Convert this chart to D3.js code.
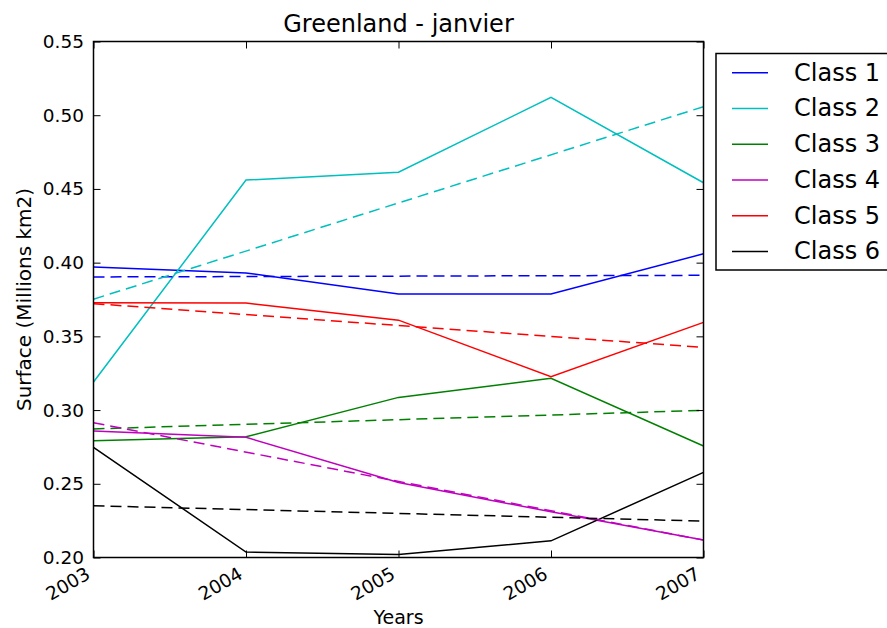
<!DOCTYPE html>
<html>
<head>
<meta charset="utf-8">
<script src="https://cdn.jsdelivr.net/npm/d3@7"></script>
<style>
  html, body { margin: 0; padding: 0; background: #fff; }
  svg { display: block; font-family: "DejaVu Sans", sans-serif; }
</style>
</head>
<body>
<svg id="chart" width="887" height="628"></svg>
<script>
// Yearly January surface per class (millions km2)
const years = [2003, 2004, 2005, 2006, 2007];
const classNames = ["Class 1", "Class 2", "Class 3", "Class 4", "Class 5", "Class 6"];
const classColors = ["#0000ff", "#00bfbf", "#008000", "#bf00bf", "#ff0000", "#000000"];

const class1 = [0.397, 0.393, 0.3787, 0.3787, 0.406];
const class2 = [0.319, 0.456, 0.4613, 0.5121, 0.4542];
const class3 = [0.2792, 0.2819, 0.3086, 0.3215, 0.2756];
const class4 = [0.2858, 0.2815, 0.2509, 0.231, 0.2118];
const class5 = [0.3728, 0.3726, 0.361, 0.3226, 0.3595];
const class6 = [0.2747, 0.2037, 0.2021, 0.2113, 0.2577];

// Linear trend lines: value at first and last year
const trend1 = [0.3903, 0.3914];
const trend2 = [0.3752, 0.5058];
const trend3 = [0.2872, 0.2998];
const trend4 = [0.2914, 0.2118];
const trend5 = [0.3722, 0.3425];
const trend6 = [0.2351, 0.2247];

const yTicks = [0.20, 0.25, 0.30, 0.35, 0.40, 0.45, 0.50, 0.55];

const seriesValues = [class1, class2, class3, class4, class5, class6];
const trendValues = [trend1, trend2, trend3, trend4, trend5, trend6];

const svg = d3.select("#chart");
const plotLeft = 93.5, plotRight = 703.5, plotTop = 41.5, plotBottom = 557.5;

const x = d3.scaleLinear().domain([2003, 2007]).range([plotLeft, plotRight]);
const y = d3.scaleLinear().domain([0.20, 0.55]).range([plotBottom, plotTop]);

// Plot lines
const line = d3.line().x(d => x(d[0])).y(d => y(d[1]));
const plot = svg.append("g");

seriesValues.forEach((vals, i) => {
  plot.append("path")
    .datum(years.map((yr, j) => [yr, vals[j]]))
    .attr("d", line)
    .attr("fill", "none")
    .attr("stroke", classColors[i])
    .attr("stroke-width", 1.5);
});

trendValues.forEach((tv, i) => {
  plot.append("path")
    .datum([[years[0], tv[0]], [years[years.length - 1], tv[1]]])
    .attr("d", line)
    .attr("fill", "none")
    .attr("stroke", classColors[i])
    .attr("stroke-width", 1.5)
    .attr("stroke-dasharray", "11,6");
});

// Axes with inward ticks on all sides
const tickLen = 7;
const fmtY = d3.format(".2f");

const axBottom = svg.append("g").attr("transform", `translate(0,${plotBottom})`)
  .call(d3.axisBottom(x).tickValues(years).tickSize(-tickLen).tickFormat(""));
const axTop = svg.append("g").attr("transform", `translate(0,${plotTop})`)
  .call(d3.axisTop(x).tickValues(years).tickSize(-tickLen).tickFormat(""));
const axLeft = svg.append("g").attr("transform", `translate(${plotLeft},0)`)
  .call(d3.axisLeft(y).tickValues(yTicks).tickSize(-tickLen).tickFormat(""));
const axRight = svg.append("g").attr("transform", `translate(${plotRight},0)`)
  .call(d3.axisRight(y).tickValues(yTicks).tickSize(-tickLen).tickFormat(""));
[axBottom, axTop, axLeft, axRight].forEach(a => {
  a.select(".domain").remove();
  a.selectAll(".tick line").attr("stroke", "#000").attr("stroke-width", 1);
});

svg.append("rect")
  .attr("x", plotLeft).attr("y", plotTop)
  .attr("width", plotRight - plotLeft).attr("height", plotBottom - plotTop)
  .attr("fill", "none").attr("stroke", "#000").attr("stroke-width", 1.5);

// Tick labels
svg.append("g").selectAll("text").data(yTicks).join("text")
  .attr("x", 84).attr("y", d => y(d))
  .attr("text-anchor", "end").attr("dominant-baseline", "central")
  .attr("font-size", 18.5).attr("fill", "#000")
  .text(d => fmtY(d));

svg.append("g").selectAll("text").data(years).join("text")
  .attr("transform", d => `translate(${x(d) - 2},${plotBottom + 20}) rotate(-30)`)
  .attr("text-anchor", "end")
  .attr("font-size", 18.5).attr("fill", "#000")
  .text(d => d);

// Titles
svg.append("text")
  .attr("x", (plotLeft + plotRight) / 2).attr("y", 32)
  .attr("text-anchor", "middle").attr("font-size", 24).attr("fill", "#000")
  .text("Greenland - janvier");

svg.append("text")
  .attr("x", (plotLeft + plotRight) / 2).attr("y", 624)
  .attr("text-anchor", "middle").attr("font-size", 19).attr("fill", "#000")
  .text("Years");

svg.append("text")
  .attr("transform", `translate(31,${(plotTop + plotBottom) / 2}) rotate(-90)`)
  .attr("text-anchor", "middle").attr("font-size", 20).attr("fill", "#000")
  .text("Surface (Millions km2)");

// Legend
const legend = svg.append("g");
legend.append("rect")
  .attr("x", 716).attr("y", 53.5).attr("width", 200).attr("height", 216.5)
  .attr("fill", "#fff").attr("stroke", "#000").attr("stroke-width", 1.5);
classNames.forEach((name, i) => {
  const cy = 72.7 + i * 35.75;
  legend.append("line")
    .attr("x1", 732).attr("x2", 768).attr("y1", cy).attr("y2", cy)
    .attr("stroke", classColors[i]).attr("stroke-width", 1.5);
  legend.append("text")
    .attr("x", 794).attr("y", cy)
    .attr("dominant-baseline", "central")
    .attr("font-size", 24).attr("fill", "#000")
    .text(name);
});
</script>
</body>
</html>
